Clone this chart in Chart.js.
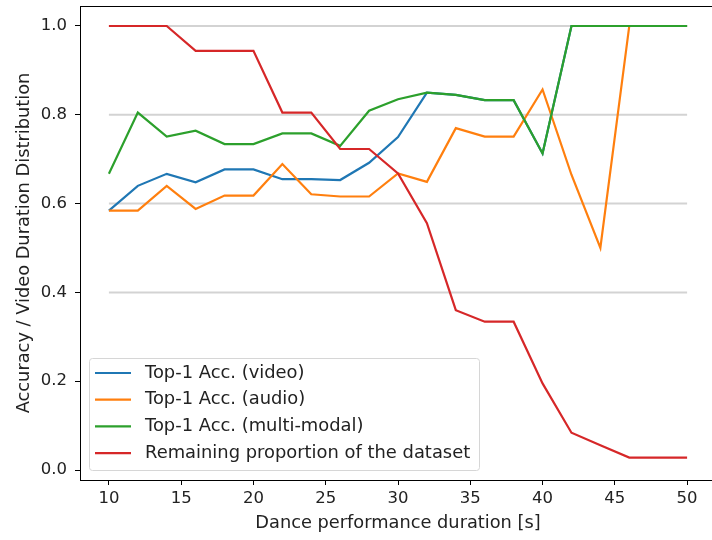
<!DOCTYPE html>
<html>
<head>
<meta charset="utf-8">
<script src="https://cdn.jsdelivr.net/npm/chart.js@4.4.1/dist/chart.umd.min.js"></script>
<style>
  html, body { margin:0; padding:0; background:#fff; overflow:hidden; }
  canvas { display:block; }
</style>
</head>
<body>
<canvas id="chart" width="720" height="540"></canvas>
<script>
// durations [s]
const durations = [10,12,14,16,18,20,22,24,26,28,30,32,34,36,38,40,42,44,46,48,50];

const accVideo = [0.584,0.640,0.667,0.648,0.677,0.677,0.655,0.655,0.653,0.692,0.750,0.850,
                  0.845,0.833,0.833,0.713,1.0,1.0,1.0,1.0,1.0];
const accAudio = [0.584,0.584,0.640,0.588,0.618,0.618,0.689,0.621,0.616,0.616,0.668,0.649,
                  0.770,0.751,0.751,0.857,0.665,0.500,1.0,1.0,1.0];
const accMulti = [0.667,0.805,0.751,0.764,0.734,0.734,0.758,0.758,0.730,0.809,0.835,0.850,
                  0.845,0.833,0.833,0.713,1.0,1.0,1.0,1.0,1.0];
const remaining = [1.0,1.0,1.0,0.944,0.944,0.944,0.805,0.805,0.723,0.723,0.668,0.556,
                   0.360,0.334,0.334,0.195,0.084,0.056,0.028,0.028,0.028];

const seriesLabels = ['Top-1 Acc. (video)','Top-1 Acc. (audio)','Top-1 Acc. (multi-modal)','Remaining proportion of the dataset'];
const seriesColors = ['#1f77b4','#ff7f0e','#2ca02c','#d62728'];

const xTicks = [10,15,20,25,30,35,40,45,50];
const yTicks = [0.0,0.2,0.4,0.6,0.8,1.0];
const gridLevels = [0.4,0.6,0.8,1.0];

const FONT = 'DejaVu Sans';

function pts(ys){ return durations.map((x,i)=>({x:x, y:ys[i]})); }

const mainSets = [accVideo, accAudio, accMulti, remaining].map((ys,i)=>({
    label: seriesLabels[i],
    data: pts(ys),
    borderColor: seriesColors[i],
    borderWidth: 2.2,
    pointRadius: 0,
    tension: 0,
    order: 4 - i
}));

// horizontal reference lines, drawn under everything
const gridSets = gridLevels.map(g=>({
    label: '_grid',
    data: [{x:durations[0], y:g},{x:durations[durations.length-1], y:g}],
    borderColor: '#d3d3d3',
    borderWidth: 2,
    pointRadius: 0,
    order: 10
}));

const frame = {
    id:'frame',
    afterDatasetsDraw(c){
        const a = c.chartArea, ctx = c.ctx;
        ctx.save();
        ctx.strokeStyle = '#000';
        ctx.lineWidth = 1;
        ctx.strokeRect(Math.round(a.left)+0.5, Math.round(a.top)+0.5,
                       Math.round(a.right-a.left), Math.round(a.bottom-a.top));
        ctx.restore();
    }
};

// legend inside the plot, lower left
const boxLegend = {
    id:'boxLegend',
    afterDraw(c){
        const ctx = c.ctx;
        const x0 = 89, y0 = 358, w = 390, h = 112, rowH = 26.7;
        ctx.save();
        ctx.fillStyle = 'rgba(255,255,255,0.85)';
        ctx.strokeStyle = '#d6d6d6';
        ctx.lineWidth = 1;
        ctx.beginPath();
        ctx.roundRect(x0+0.5, y0+0.5, w, h, 3);
        ctx.fill();
        ctx.stroke();
        ctx.font = '17.9px "' + FONT + '"';
        ctx.textBaseline = 'middle';
        seriesLabels.forEach((lab,i)=>{
            const y = y0 + 15 + i*rowH;
            ctx.strokeStyle = seriesColors[i];
            ctx.lineWidth = 2.2;
            ctx.beginPath();
            ctx.moveTo(95, y); ctx.lineTo(131, y);
            ctx.stroke();
            ctx.fillStyle = '#222';
            ctx.fillText(lab, 145, y);
        });
        ctx.restore();
    }
};

new Chart(document.getElementById('chart'), {
    type:'line',
    data:{ datasets: mainSets.concat(gridSets) },
    options:{
        responsive:false,
        animation:false,
        layout:{ padding:{ left:0, top:6, right:4, bottom:0 } },
        plugins:{ legend:{display:false}, tooltip:{enabled:false} },
        scales:{
            x:{
                type:'linear', min:8, max:52,
                afterBuildTicks: ax => { ax.ticks = xTicks.map(v=>({value:v})); },
                afterFit: s => { s.height = 60; s.paddingLeft = 0; s.paddingRight = 0; },
                grid:{ drawOnChartArea:false, drawTicks:true, tickLength:5, tickColor:'#000' },
                border:{ display:false },
                ticks:{ color:'#222', font:{family:FONT, size:16.5}, padding:4, maxRotation:0 },
                title:{ display:true, text:'Dance performance duration [s]', color:'#222',
                        font:{family:FONT, size:17.8}, padding:{top:2, bottom:6} }
            },
            y:{
                type:'linear', min:-0.0225, max:1.045,
                afterBuildTicks: ax => { ax.ticks = yTicks.map(v=>({value:v})); },
                afterFit: s => { s.width = 80; s.paddingTop = 0; s.paddingBottom = 0; },
                grid:{ drawOnChartArea:false, drawTicks:true, tickLength:5, tickColor:'#000' },
                border:{ display:false },
                ticks:{ color:'#222', font:{family:FONT, size:16.5}, padding:8,
                        callback: v => v.toFixed(1) },
                title:{ display:true, text:'Accuracy / Video Duration Distribution', color:'#222',
                        font:{family:FONT, size:17.8}, padding:{top:14, bottom:0} }
            }
        }
    },
    plugins:[frame, boxLegend]
});
</script>
</body>
</html>
